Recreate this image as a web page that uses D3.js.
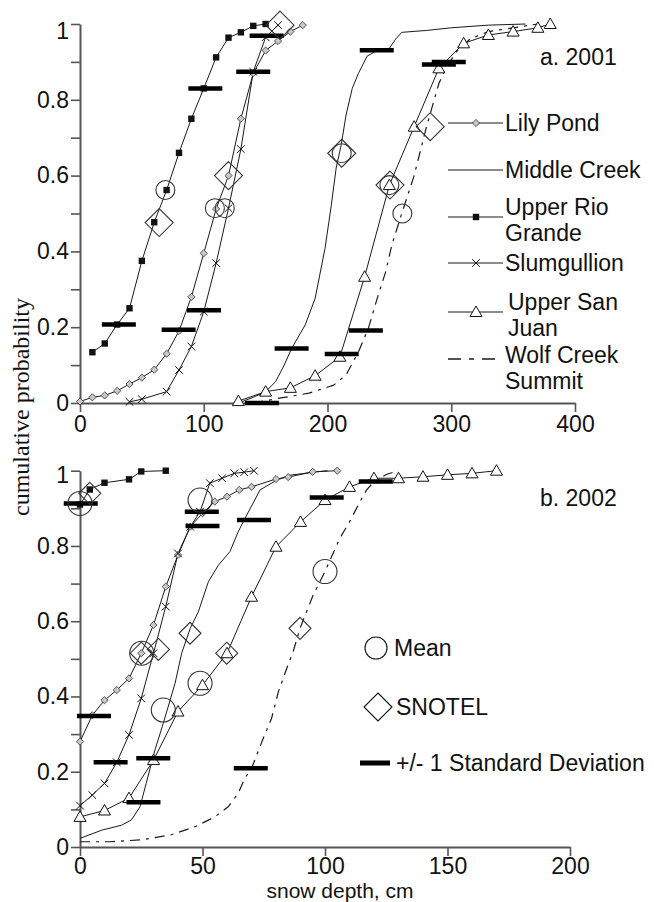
<!DOCTYPE html>
<html><head><meta charset="utf-8">
<script src="https://cdn.jsdelivr.net/npm/d3@7"></script>
<style>html,body{margin:0;padding:0;background:#fff;}svg{display:block;}</style>
</head><body>
<script>
// ---------- DATA ----------
const sites = ["Lily Pond","Middle Creek","Upper Rio Grande","Slumgullion","Upper San Juan","Wolf Creek Summit"];
const legendLabels = [["Lily Pond"],["Middle Creek"],["Upper Rio","Grande"],["Slumgullion"],["Upper San","Juan"],["Wolf Creek","Summit"]];
const xTicks2001 = [0,100,200,300,400];
const xTicks2002 = [0,50,100,150,200];
const yTicks = [0,0.1,0.2,0.3,0.4,0.5,0.6,0.7,0.8,0.9,1];

// 2001
const lily01X = [0,10,20,30,40,50,60,70,80,90,100,110,120,130,140,150,160,170,180];
const lily01P = [0.004,0.015,0.02,0.032,0.05,0.067,0.088,0.13,0.19,0.28,0.395,0.512,0.6,0.75,0.87,0.93,0.955,0.98,0.997];
const mc01X = [128,140,150,158,165,171,182,190,198,203,207,211,215,220,225,232,240,250,255,260,280,300,330,360];
const mc01P = [0,0.015,0.03,0.056,0.1,0.144,0.206,0.276,0.408,0.52,0.62,0.68,0.76,0.83,0.87,0.915,0.93,0.936,0.96,0.978,0.983,0.99,0.997,1.0];
const urg01X = [10,20,30,40,50,60,70,80,90,100,110,120,130,140,150];
const urg01P = [0.134,0.157,0.207,0.25,0.375,0.477,0.562,0.66,0.75,0.83,0.912,0.964,0.978,0.995,1.0];
const slum01X = [40,50,70,80,90,100,110,120,130,140,150,160];
const slum01P = [0.003,0.01,0.03,0.087,0.149,0.241,0.369,0.514,0.67,0.874,0.965,0.997];
const usj01X = [128,150,170,190,210,230,250,270,290,310,330,350,370,380];
const usj01P = [0.005,0.03,0.04,0.072,0.122,0.333,0.575,0.729,0.883,0.949,0.971,0.98,0.99,1.0];
const wc01X = [140,160,185,205,215,225,233,241,247,252,260,270,280,290,296,305,315,330,350,370];
const wc01P = [0.0,0.012,0.026,0.047,0.074,0.135,0.197,0.285,0.346,0.417,0.5,0.6,0.729,0.843,0.887,0.93,0.96,0.98,0.99,1.0];
const mean01X = [109,211.5,69,117,250,260.5];
const mean01P = [0.514,0.659,0.562,0.514,0.575,0.5];
const snotel01X = [120,211.5,64,161.6,250.5,283];
const snotel01P = [0.6,0.659,0.476,0.997,0.575,0.729];
const sd01X = [31.4,101.3,79.7,140,100.2,150.8,171,239.8,211.5,290,231,298,147];
const sd01P = [0.207,0.83,0.193,0.874,0.245,0.969,0.144,0.931,0.129,0.893,0.191,0.9,0.0];

// 2002
const lily02X = [0,5,10,15,20,25,30,35,40,45,50,55,60,65,70,80,85,95,105];
const lily02P = [0.28,0.35,0.39,0.417,0.448,0.515,0.59,0.692,0.776,0.851,0.887,0.918,0.931,0.949,0.957,0.978,0.983,0.997,1.0];
const mc02X = [0,9,17,21,24.5,27,30.6,34,38.8,41.5,45,48.3,52.4,56.5,61.2,64.6,67,73.5,80.3,85.7,96.6,101];
const mc02P = [0.023,0.045,0.058,0.072,0.107,0.169,0.258,0.329,0.435,0.515,0.581,0.625,0.705,0.749,0.785,0.838,0.869,0.949,0.975,0.988,0.997,1.0];
const urg02X = [0,4,10,20,25,35];
const urg02P = [0.91,0.95,0.968,0.977,0.998,1.0];
const slum02X = [0,5,10,15,20,25,30,35,40,45,49,53,58,63,67,71];
const slum02P = [0.11,0.138,0.169,0.225,0.298,0.395,0.515,0.639,0.78,0.851,0.891,0.967,0.98,0.993,0.996,1.0];
const usj02X = [0,10,20,30,40,50,60,70,80,90,100,110,120,130,140,150,160,170];
const usj02P = [0.08,0.097,0.13,0.231,0.36,0.43,0.515,0.665,0.798,0.864,0.922,0.957,0.98,0.98,0.984,0.989,0.993,1.0];
const wc02X = [0,12,25,37,47,55,60.5,64.6,67.3,70,74.8,78.2,81,84.4,87,89.8,95.2,100,106,110,114.3,117,120,125,130];
const wc02P = [0.014,0.014,0.019,0.032,0.054,0.08,0.107,0.143,0.183,0.209,0.289,0.342,0.413,0.475,0.519,0.581,0.67,0.732,0.82,0.864,0.918,0.949,0.971,0.99,1.0];
const mean02X = [25.2,34,0,49,49,100];
const mean02P = [0.515,0.364,0.913,0.922,0.435,0.732];
const snotel02X = [25,44.9,4,32,59.9,89.8];
const snotel02P = [0.515,0.568,0.94,0.525,0.515,0.581];
const sd02X = [0.3,5.7,12.5,29.9,25.9,69.7,49.7,50,71,100.7,120.7];
const sd02P = [0.913,0.348,0.225,0.236,0.119,0.209,0.891,0.853,0.869,0.929,0.971];

// ---------- DRAW ----------
const W = 654, H = 902;
const FONT = "'Liberation Sans', Arial, sans-serif";
const svg = d3.select("body").append("svg").attr("width", W).attr("height", H)
  .style("font-family", FONT);

const zip = (xs, ps) => xs.map((x, i) => [x, ps[i]]);
const markerType = ["lily","none","square","cross","triangle","none"];

function drawMarker(g, type, cx, cy) {
  if (type === "square") {
    g.append("rect").attr("x", cx-3.2).attr("y", cy-3.2).attr("width", 6.4).attr("height", 6.4).attr("fill", "#111");
  } else if (type === "lily") {
    const s = 3.6;
    g.append("path").attr("d", `M${cx},${cy-s}L${cx+s},${cy}L${cx},${cy+s}L${cx-s},${cy}Z`)
      .attr("fill", "#c8c8c8").attr("stroke", "#444").attr("stroke-width", 0.9);
  } else if (type === "cross") {
    const s = 3.8;
    g.append("path").attr("d", `M${cx-s},${cy-s}L${cx+s},${cy+s}M${cx-s},${cy+s}L${cx+s},${cy-s}`)
      .attr("stroke", "#111").attr("stroke-width", 1).attr("fill", "none");
  } else if (type === "triangle") {
    g.append("path").attr("d", `M${cx},${cy-6}L${cx+6},${cy+4.5}L${cx-6},${cy+4.5}Z`)
      .attr("fill", "#fff").attr("stroke", "#111").attr("stroke-width", 1);
  }
}

function drawPanel(cfg) {
  const x = d3.scaleLinear().domain(cfg.xDomain).range(cfg.xRange);
  const y = d3.scaleLinear().domain([0, 1]).range(cfg.yRange);
  const g = svg.append("g");

  const xAxis = d3.axisBottom(x).tickValues(cfg.xTicks).tickSize(9).tickSizeOuter(0).tickPadding(cfg.xPad);
  const gx = g.append("g").attr("transform", `translate(0,${cfg.yRange[0]})`).call(xAxis);
  const yAxis = d3.axisLeft(y).tickValues(yTicks).tickSize(9).tickSizeOuter(0).tickPadding(2)
    .tickFormat(d => (Math.round(d*10) % 2 === 0) ? d3.format("~g")(d) : "");
  const gy = g.append("g").attr("transform", `translate(${cfg.xRange[0]},0)`).call(yAxis);
  [gx, gy].forEach(a => {
    a.select(".domain").attr("stroke", "#555").attr("stroke-width", 2);
    a.selectAll(".tick line").attr("stroke", "#555").attr("stroke-width", 1.6);
    a.selectAll("text").attr("font-size", 23).attr("fill", "#111").style("font-family", FONT);
  });
  gy.selectAll(".tick").filter(d => d === 1).select("text").attr("dy", cfg.topLabelDy);

  const line = d3.line().x(d => x(d[0])).y(d => y(d[1]));
  cfg.series.forEach((s, i) => {
    const path = g.append("path").datum(s).attr("d", line).attr("fill", "none")
      .attr("stroke", "#1a1a1a").attr("stroke-width", 1);
    if (i === 5) path.attr("stroke-dasharray", "10,6,3,6").attr("stroke-width", 1.2);
  });
  cfg.series.forEach((s, i) => {
    s.forEach(d => drawMarker(g, markerType[i], x(d[0]), y(d[1])));
  });
  cfg.sd.forEach(d => {
    g.append("line").attr("x1", x(d[0]) - 17).attr("x2", x(d[0]) + 17)
      .attr("y1", y(d[1])).attr("y2", y(d[1])).attr("stroke", "#000").attr("stroke-width", 4.5);
  });
  cfg.means.forEach(d => {
    g.append("circle").attr("cx", x(d[0])).attr("cy", y(d[1])).attr("r", cfg.circleR)
      .attr("fill", "none").attr("stroke", "#333").attr("stroke-width", 1.1);
  });
  cfg.snotel.forEach(d => {
    const cx = x(d[0]), cy = y(d[1]), s = cfg.diamondS;
    g.append("path").attr("d", `M${cx},${cy-s}L${cx+s},${cy}L${cx},${cy+s}L${cx-s},${cy}Z`)
      .attr("fill", "none").attr("stroke", "#333").attr("stroke-width", 1.1);
  });
  g.append("text").attr("x", 540).attr("y", cfg.labelY).attr("font-size", 23).attr("fill", "#111").text(cfg.label);
}

drawPanel({
  xDomain: [0, 400], xRange: [80, 575], yRange: [403, 24], xTicks: xTicks2001, xPad: 4,
  series: [zip(lily01X, lily01P), zip(mc01X, mc01P), zip(urg01X, urg01P), zip(slum01X, slum01P), zip(usj01X, usj01P), zip(wc01X, wc01P)],
  means: zip(mean01X, mean01P), snotel: zip(snotel01X, snotel01P), sd: zip(sd01X, sd01P),
  circleR: 9.5, diamondS: 14, label: "a. 2001", labelY: 65, topLabelDy: "0.62em"
});
drawPanel({
  xDomain: [0, 200], xRange: [80, 570], yRange: [847, 470.7], xTicks: xTicks2002, xPad: 2,
  series: [zip(lily02X, lily02P), zip(mc02X, mc02P), zip(urg02X, urg02P), zip(slum02X, slum02P), zip(usj02X, usj02P), zip(wc02X, wc02P)],
  means: zip(mean02X, mean02P), snotel: zip(snotel02X, snotel02P), sd: zip(sd02X, sd02P),
  circleR: 12, diamondS: 11, label: "b. 2002", labelY: 506, topLabelDy: "0.5em"
});

// ---------- Top legend ----------
const legY = [123, 170, 217, 263, 312, 359];
const lg = svg.append("g");
sites.forEach((s, i) => {
  const yy = legY[i];
  const ln = lg.append("line").attr("x1", 448).attr("x2", 503).attr("y1", yy).attr("y2", yy)
    .attr("stroke", "#1a1a1a").attr("stroke-width", 1);
  if (i === 5) ln.attr("stroke-dasharray", "13,8,5,8").attr("stroke-width", 1.3);
  drawMarker(lg, markerType[i], 476, yy);
  const lines = legendLabels[i];
  const tx = (i === 4) ? 508 : 505;
  if (lines.length === 1) {
    lg.append("text").attr("x", tx).attr("y", yy + 8).attr("font-size", 23).attr("fill", "#111").text(lines[0]);
  } else {
    const firstY = (i === 5) ? yy + 4 : yy - 2;
    lines.forEach((t, k) => {
      lg.append("text").attr("x", tx).attr("y", firstY + k * 26).attr("font-size", 23).attr("fill", "#111").text(t);
    });
  }
});

// ---------- Bottom legend ----------
const bl = svg.append("g");
bl.append("circle").attr("cx", 376).attr("cy", 648).attr("r", 11).attr("fill", "none").attr("stroke", "#111").attr("stroke-width", 1.1);
bl.append("text").attr("x", 394).attr("y", 656).attr("font-size", 23).attr("fill", "#111").text("Mean");
bl.append("path").attr("d", "M378,693L392,707L378,721L364,707Z").attr("fill", "none").attr("stroke", "#111").attr("stroke-width", 1.1);
bl.append("text").attr("x", 396).attr("y", 715).attr("font-size", 23).attr("fill", "#111").text("SNOTEL");
bl.append("line").attr("x1", 360).attr("x2", 390).attr("y1", 763).attr("y2", 763).attr("stroke", "#000").attr("stroke-width", 5);
bl.append("text").attr("x", 396).attr("y", 771).attr("font-size", 23).attr("fill", "#111").text("+/- 1 Standard Deviation");

// ---------- Axis titles ----------
svg.append("text").attr("transform", "translate(29,407) rotate(-90)").attr("text-anchor", "middle")
  .attr("font-size", 24).style("font-family", "'Liberation Serif', 'Times New Roman', serif").attr("fill", "#111")
  .text("cumulative probability");
svg.append("text").attr("x", 340).attr("y", 898).attr("text-anchor", "middle")
  .attr("font-size", 21).attr("fill", "#111").text("snow depth, cm");
</script>
</body></html>
